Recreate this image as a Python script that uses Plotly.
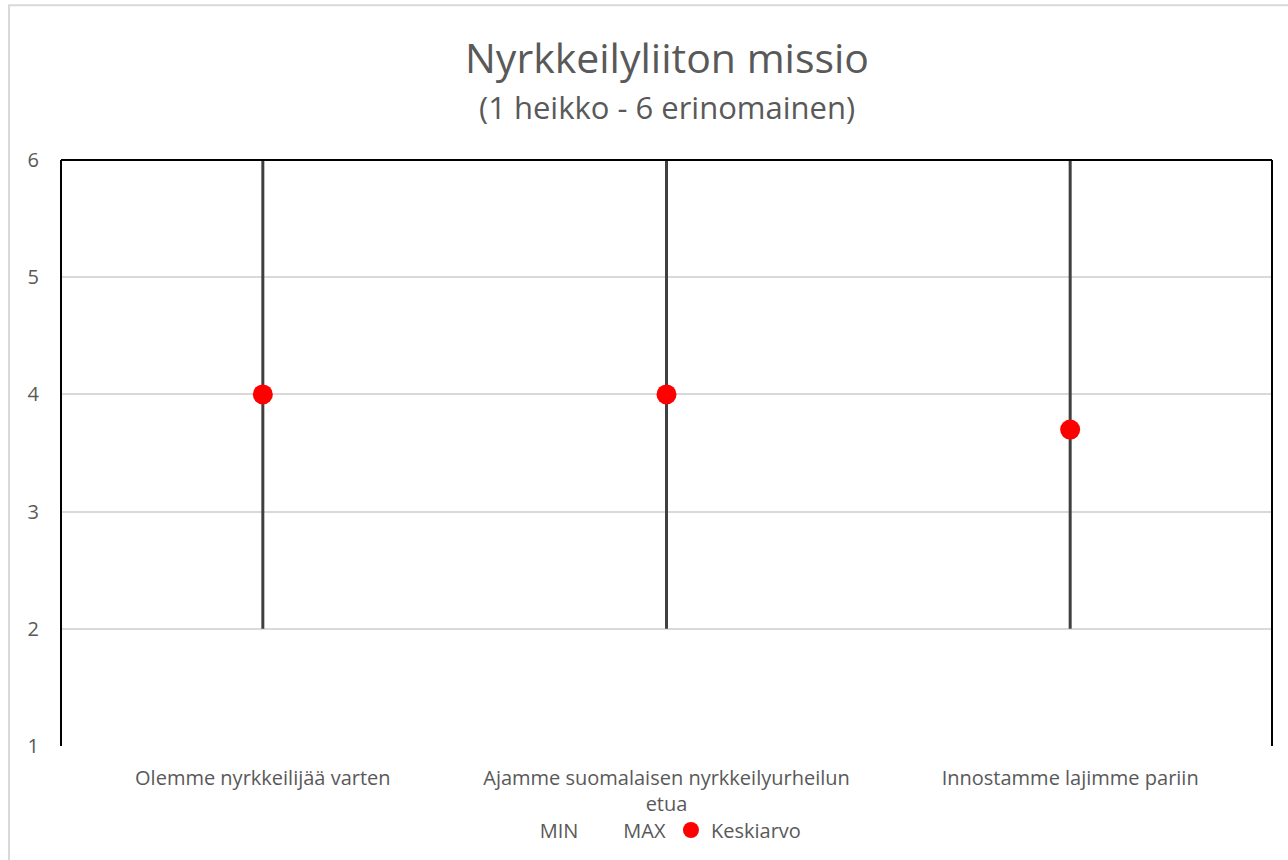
import plotly.graph_objects as go

categories = ["Olemme nyrkkeilijää varten",
              "Ajamme suomalaisen nyrkkeilyurheilun<br>etua",
              "Innostamme lajimme pariin"]
min_values = [2, 2, 2]
max_values = [6, 6, 6]
mean_values = [4.0, 4.0, 3.7]
y_ticks = [1, 2, 3, 4, 5, 6]

FONT = "Open Sans"
GRAY = "#595959"

# high-low lines built from min/max
line_x, line_y = [], []
for c, lo, hi in zip(categories, min_values, max_values):
    line_x += [c, c, None]
    line_y += [lo, hi, None]

fig = go.Figure()
fig.add_trace(go.Scatter(x=line_x, y=line_y, mode="lines",
                         line=dict(color="#404040", width=3),
                         showlegend=False, hoverinfo="skip"))
fig.add_trace(go.Scatter(x=categories, y=min_values, mode="markers", name="MIN",
                         marker=dict(color="rgba(0,0,0,0)", size=1)))
fig.add_trace(go.Scatter(x=categories, y=max_values, mode="markers", name="MAX",
                         marker=dict(color="rgba(0,0,0,0)", size=1)))
fig.add_trace(go.Scatter(x=categories, y=mean_values, mode="markers", name="Keskiarvo",
                         marker=dict(color="#ff0000", size=20)))

PLOT_H = 587.0
fig.update_layout(
    width=1288, height=860,
    margin=dict(l=61, r=16, t=160, b=113),
    paper_bgcolor="white", plot_bgcolor="white",
    font=dict(family=FONT, color=GRAY, size=20),
    showlegend=True,
    legend=dict(orientation="h", x=0.489, xanchor="center", y=(747 - 830) / PLOT_H,
                yanchor="middle", font=dict(size=20, color=GRAY), itemwidth=30,
                bgcolor="rgba(0,0,0,0)"),
    xaxis=dict(type="category", categoryorder="array", categoryarray=categories,
               range=[-0.5, 2.5], showgrid=False, zeroline=False, showline=False,
               ticks="", ticklabelstandoff=18, automargin=False,
               tickfont=dict(size=20, color=GRAY)),
    yaxis=dict(range=[1, 6], tickvals=y_ticks, showgrid=True, gridcolor="#d9d9d9",
               gridwidth=2, zeroline=False, showline=False, ticks="",
               ticklabelstandoff=21, automargin=False,
               tickfont=dict(size=20, color=GRAY)),
)

# title and subtitle
fig.add_annotation(text="Nyrkkeilyliiton missio", xref="paper", yref="paper",
                   x=0.5, y=(747 - 57) / PLOT_H, xanchor="center", yanchor="middle",
                   showarrow=False, font=dict(family=FONT, size=41, color=GRAY))
fig.add_annotation(text="(1 heikko - 6 erinomainen)", xref="paper", yref="paper",
                   x=0.5, y=(747 - 107) / PLOT_H, xanchor="center", yanchor="middle",
                   showarrow=False, font=dict(family=FONT, size=31, color=GRAY))

# plot frame: top, left, right in black
fig.add_shape(type="line", xref="paper", yref="paper", x0=0, x1=0, y0=0, y1=1,
              line=dict(color="black", width=2), layer="above")
fig.add_shape(type="line", xref="paper", yref="paper", x0=1, x1=1, y0=0, y1=1,
              line=dict(color="black", width=2), layer="above")
fig.add_shape(type="line", xref="paper", yref="paper", x0=0, x1=1, y0=1, y1=1,
              line=dict(color="black", width=2), layer="above")
# outer chart border
fig.add_shape(type="rect", xref="paper", yref="paper",
              x0=(9 - 61) / 1211, x1=1.1, y0=-0.5, y1=(747 - 5) / PLOT_H,
              line=dict(color="#d9d9d9", width=2), layer="above")

fig.write_html("out.html", config={"displayModeBar": False},
               post_script="document.body.style.margin='0';document.body.style.overflow='hidden';")
